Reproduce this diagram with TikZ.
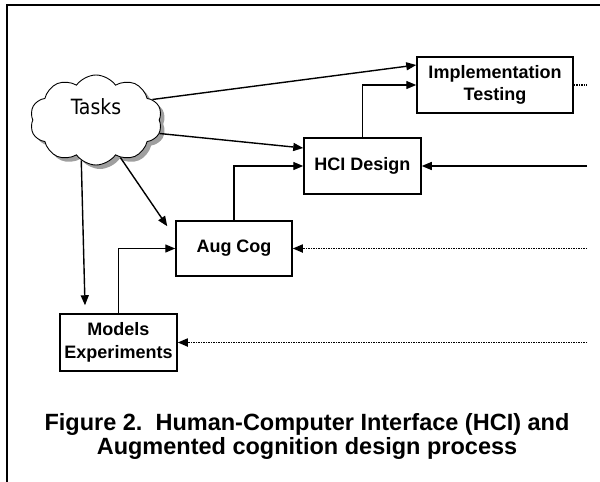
\documentclass[tikz,border=0pt]{standalone}
\usepackage{fontspec}
\setmainfont{Liberation Sans}
\newfontfamily\cloudfont{DejaVu Sans Condensed}
\usetikzlibrary{arrows.meta,shapes.symbols,shadows}

\begin{document}
\begin{tikzpicture}[x=1pt, y=-1pt,
    stage/.style={draw, line width=1.5pt, align=center, inner sep=0pt,
      minimum height=56pt, font=\fontsize{18}{22.5}\selectfont\bfseries},
    link/.style={line width=1.4pt, -{Triangle[length=10pt,width=8pt]}},
    feedback/.style={link, line width=1.7pt, dash pattern=on 1.5pt off 1pt}]
  \useasboundingbox (0,0) rectangle (600,482);

  % Frame edges
  \draw[line width=2pt] (600,5) -- (7,5) -- (7,482);

  % Task cloud
  \node[cloud, cloud puffs=10, cloud puff arc=110, cloud ignores aspect, draw,
        line width=0.9pt, fill=white,
        minimum width=132pt, minimum height=90pt, inner sep=0pt,
        drop shadow={shadow xshift=4pt, shadow yshift=-4pt, fill=gray!75, opacity=1},
        font=\cloudfont\fontsize{21}{21}\selectfont, text height=15pt, text depth=26pt]
        (tasks) at (96,120) {Tasks};

  % Design stages
  \node[stage, minimum width=156pt] (impl) at (495,85) {Implementation\\Testing};
  \node[stage, minimum width=117pt] (hci) at (362.5,166) {HCI Design};
  \node[stage, minimum width=116pt, minimum height=55pt] (aug) at (234,248.5) {Aug Cog};
  \node[stage, minimum width=117pt, minimum height=57pt] (models) at (118.5,342.5) {Models\\Experiments};

  % Loose ends at the right
  \coordinate (implout) at (587,85);
  \coordinate (hciin) at (587,166);
  \coordinate (augin) at (587,248.5);
  \coordinate (modelsin) at (587,342.5);

  % Tasks feed every stage
  \draw[link] (tasks.20) -- ([yshift=20pt]impl.west);
  \draw[link] (tasks.-12) -- ([yshift=18pt]hci.west);
  \draw[link] (tasks.-57) -- ([xshift=-8pt,yshift=-6pt]aug.north west);
  \draw[link] (tasks.-110) -- ([xshift=-33.5pt,yshift=8pt]models.north);

  % Stage to stage
  \draw[link] (models.north) |- (aug.west);
  \draw[link] (aug.north) |- (hci.west);
  \draw[link] (hci.north) |- (impl.west);

  % Feedback from the right
  \draw[feedback, -] (impl.east) -- (implout);
  \draw[link] (hciin) -- (hci.east);
  \draw[feedback] (augin) -- (aug.east);
  \draw[feedback] (modelsin) -- (models.east);

  % Caption
  \node[align=center, font=\fontsize{23.5}{24}\selectfont\bfseries] (caption) at (307,436)
    {Figure 2.\ \ Human-Computer Interface (HCI) and\\Augmented cognition design process};
\end{tikzpicture}
\end{document}
